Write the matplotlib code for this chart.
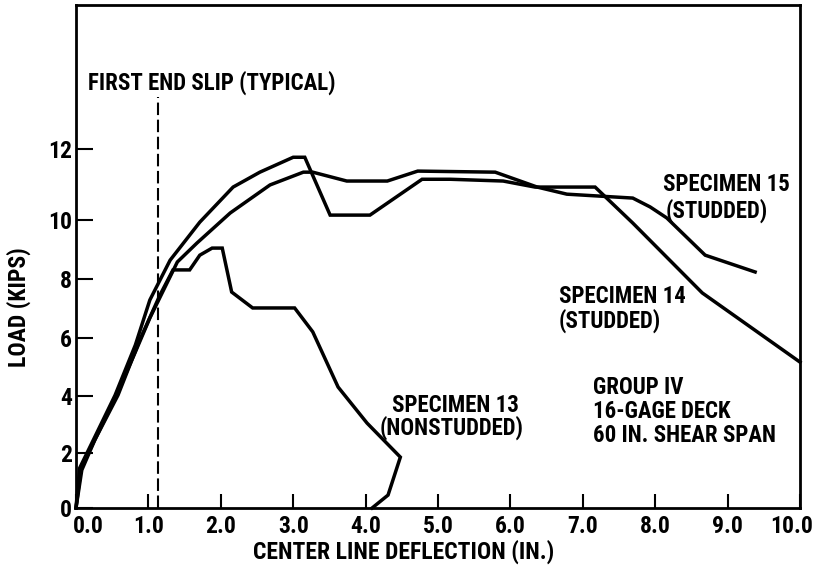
import numpy as np
import matplotlib
matplotlib.use('Agg')
import matplotlib.pyplot as plt
from matplotlib import font_manager
from matplotlib.transforms import ScaledTranslation

# narrow lettering if we can find it, else shrink DejaVu
names = {f.name for f in font_manager.fontManager.ttflist}
dv_cond = any(f.name == 'DejaVu Sans' and 'condensed' in str(f.stretch)
              for f in font_manager.fontManager.ttflist)
fs = 13.5
for cand in ['Liberation Sans Narrow', 'Roboto Condensed', 'Open Sans Condensed',
             'Noto Sans Condensed']:
    if cand in names:
        plt.rcParams['font.family'] = [cand, 'DejaVu Sans']
        fs = 16.5
        break
else:
    plt.rcParams['font.family'] = ['DejaVu Sans']
    if dv_cond:
        plt.rcParams['font.stretch'] = 'condensed'
        fs = 14.5
plt.rcParams['font.weight'] = 'bold'
plt.rcParams['axes.labelweight'] = 'bold'
fs_axis = fs + 0.5

# load vs. centre line deflection
spec14_x = [0.0, 0.05, 0.24, 0.54, 0.82, 1.02, 1.30, 1.71, 2.17, 2.54, 3.00, 3.16,
            3.51, 4.06, 4.78, 5.17, 5.90, 6.34, 7.17, 7.69, 8.65, 10.0]
spec14_y = [0.0, 1.45, 2.46, 4.03, 5.76, 7.29, 8.64, 9.93, 10.93, 11.35, 11.77, 11.77,
            10.14, 10.14, 11.15, 11.15, 11.10, 10.93, 10.93, 9.90, 7.53, 5.17]

spec15_x = [0.0, 0.08, 0.26, 0.54, 0.82, 1.02, 1.40, 1.67, 2.13, 2.68, 3.14, 3.27,
            3.74, 4.30, 4.72, 5.79, 6.37, 6.78, 7.69, 7.93, 8.16, 8.69, 9.38]
spec15_y = [0.0, 1.38, 2.46, 3.93, 5.52, 6.68, 8.58, 9.22, 10.20, 10.99, 11.35, 11.35,
            11.10, 11.10, 11.38, 11.35, 10.93, 10.73, 10.62, 10.37, 10.06, 8.81, 8.24]

spec13_x = [0.0, 0.07, 0.26, 0.58, 0.88, 1.16, 1.34, 1.57, 1.71, 1.88, 2.02, 2.15,
            2.44, 3.02, 3.27, 3.62, 4.02, 4.48, 4.31, 4.09]
spec13_y = [0.0, 1.45, 2.46, 4.03, 5.93, 7.46, 8.31, 8.31, 8.81, 9.05, 9.05, 7.56,
            7.02, 7.02, 6.21, 4.31, 3.05, 1.85, 0.47, 0.0]

first_slip_x = 1.13
x_ticks = [0, 1, 2, 3, 4, 5, 6, 7, 8, 9, 10]
x_labels = ['0.0', '1.0', '2.0', '3.0', '4.0', '5.0', '6.0', '7.0', '8.0', '9.0', '10.0']
y_ticks = [0, 2, 4, 6, 8, 10, 12]

# the hand drawn load axis is not evenly spaced; follow its tick marks
axis_vals = np.array([-2, 0, 2, 4, 6, 8, 10, 12, 17])
axis_h = np.array([-55, 0, 55, 112, 170, 229, 288, 359, 536.5])


def fwd(v):
    return np.interp(v, axis_vals, axis_h)


def inv(h):
    return np.interp(h, axis_h, axis_vals)


fig = plt.figure(figsize=(8.18, 5.68), dpi=100)
ax = fig.add_axes([76 / 818, 60 / 568, 724 / 818, 503 / 568])
ax.set_yscale('function', functions=(fwd, inv))
ax.set_xlim(0, 10)
ax.set_ylim(0, 16.06)

for xs, ys in [(spec14_x, spec14_y), (spec15_x, spec15_y), (spec13_x, spec13_y)]:
    ax.plot(xs, ys, color='black', lw=2.5, solid_joinstyle='miter', clip_on=False)

ax.plot([first_slip_x, first_slip_x], [0, 13.46], color='black', lw=1.5,
        linestyle=(0, (6, 2.2)))

ax.text(0.17, 13.86, 'FIRST END SLIP (TYPICAL)', fontsize=fs, va='center')
ax.text(8.11, 10.99, 'SPECIMEN 15', fontsize=fs, va='center')
ax.text(8.14, 10.25, '(STUDDED)', fontsize=fs, va='center')
ax.text(6.67, 7.42, 'SPECIMEN 14', fontsize=fs, va='center')
ax.text(6.67, 6.58, '(STUDDED)', fontsize=fs, va='center')
ax.text(4.36, 3.68, 'SPECIMEN 13', fontsize=fs, va='center')
ax.text(4.20, 2.88, '(NONSTUDDED)', fontsize=fs, va='center')
ax.text(7.14, 4.28, 'GROUP IV', fontsize=fs, va='center')
ax.text(7.14, 3.44, '16-GAGE DECK', fontsize=fs, va='center')
ax.text(7.14, 2.63, '60 IN. SHEAR SPAN', fontsize=fs, va='center')

ax.set_xticks(x_ticks)
ax.set_xticklabels(x_labels)
ax.set_yticks(y_ticks)
ax.set_yticklabels([str(t) for t in y_ticks])
ax.tick_params(axis='x', direction='in', length=10, width=1.5, pad=5, labelsize=fs_axis)
ax.tick_params(axis='y', direction='in', length=12, width=1.5, pad=3, labelsize=fs_axis)

labels = ax.get_xticklabels()
labels[0].set_transform(labels[0].get_transform() + ScaledTranslation(12 / 100, 0, fig.dpi_scale_trans))
labels[-1].set_transform(labels[-1].get_transform() + ScaledTranslation(-8 / 100, 0, fig.dpi_scale_trans))

for s in ax.spines.values():
    s.set_linewidth(2)

ax.set_xlabel('CENTER LINE DEFLECTION (IN.)', fontsize=fs_axis)
ax.set_ylabel('LOAD (KIPS)', fontsize=fs_axis)
ax.xaxis.set_label_coords(0.453, -0.062)
ax.yaxis.set_label_coords(-0.062, 0.40)

fig.savefig('out.png', dpi=100)
